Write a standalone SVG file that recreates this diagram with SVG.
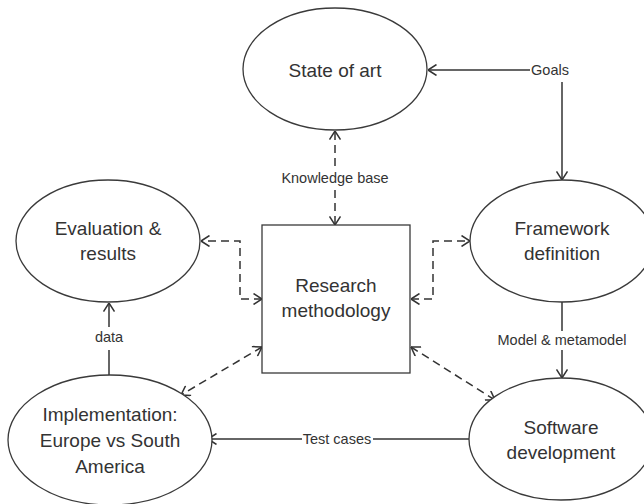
<svg xmlns="http://www.w3.org/2000/svg" width="644" height="504" viewBox="0 0 644 504">
  <defs>
    <style>
      .node { fill: #ffffff; stroke: #3a3a3a; stroke-width: 1.3; }
      .label { font-family: "Liberation Sans", Arial, sans-serif; font-size: 19px; fill: #333333; text-anchor: middle; }
      .small { font-family: "Liberation Sans", Arial, sans-serif; font-size: 14.5px; fill: #333333; text-anchor: middle; }
      .link { fill: none; stroke: #333333; stroke-width: 1.5; }
      .dash { stroke-dasharray: 8 5; }
    </style>
    <marker id="arrow" viewBox="0 0 10 12" refX="9.5" refY="6" markerWidth="10" markerHeight="12" markerUnits="userSpaceOnUse" orient="auto-start-reverse">
      <polyline points="1,0.5 9.5,6 1,11.5" fill="none" stroke="#333333" stroke-width="1.5"/>
    </marker>
  </defs>

  <rect width="644" height="504" fill="#ffffff"/>

  <!-- connectors -->
  <g id="connectors">
    <!-- Goals: from label to State of art and down to Framework definition -->
    <line class="link" x1="530" y1="70" x2="428" y2="70" marker-end="url(#arrow)"/>
    <line class="link" x1="562" y1="82" x2="562" y2="180" marker-end="url(#arrow)"/>
    <!-- Knowledge base -->
    <line class="link dash" x1="335" y1="166" x2="335" y2="131" marker-end="url(#arrow)"/>
    <line class="link dash" x1="335" y1="190" x2="335" y2="225" marker-end="url(#arrow)"/>
    <!-- Evaluation <-> Research -->
    <polyline class="link dash" points="262,299 240,299 240,241 201,241" marker-start="url(#arrow)" marker-end="url(#arrow)"/>
    <!-- Research <-> Framework -->
    <polyline class="link dash" points="411,299 433,299 433,241 470,241" marker-start="url(#arrow)" marker-end="url(#arrow)"/>
    <!-- Research <-> Implementation -->
    <line class="link dash" x1="262" y1="347" x2="181" y2="395" marker-start="url(#arrow)" marker-end="url(#arrow)"/>
    <!-- Research <-> Software -->
    <line class="link dash" x1="411" y1="347" x2="495" y2="400" marker-start="url(#arrow)" marker-end="url(#arrow)"/>
    <!-- Model & metamodel -->
    <line class="link" x1="562" y1="302" x2="562" y2="331"/>
    <line class="link" x1="562" y1="350" x2="562" y2="378" marker-end="url(#arrow)"/>
    <!-- Test cases -->
    <line class="link" x1="469" y1="439" x2="373" y2="439"/>
    <line class="link" x1="302" y1="439" x2="208" y2="439" marker-end="url(#arrow)"/>
    <!-- data -->
    <line class="link" x1="109" y1="375" x2="109" y2="350"/>
    <line class="link" x1="109" y1="327" x2="109" y2="303" marker-end="url(#arrow)"/>

    <text class="small" x="550" y="75">Goals</text>
    <text class="small" x="335" y="183">Knowledge base</text>
    <text class="small" x="562" y="345">Model &amp; metamodel</text>
    <text class="small" x="337" y="444">Test cases</text>
    <text class="small" x="109" y="342">data</text>
  </g>

  <!-- nodes -->
  <g id="state-of-art">
    <ellipse class="node" cx="335" cy="69" rx="92" ry="61"/>
    <text class="label" x="335" y="77">State of art</text>
  </g>

  <g id="evaluation">
    <ellipse class="node" cx="108" cy="241" rx="92" ry="61"/>
    <text class="label" x="108" y="235">Evaluation &amp;</text>
    <text class="label" x="108" y="260">results</text>
  </g>

  <g id="research-methodology">
    <rect class="node" x="262" y="225" width="148" height="148"/>
    <text class="label" x="336" y="292">Research</text>
    <text class="label" x="336" y="317">methodology</text>
  </g>

  <g id="framework-definition">
    <ellipse class="node" cx="562" cy="241" rx="92" ry="61"/>
    <text class="label" x="562" y="235">Framework</text>
    <text class="label" x="562" y="260">definition</text>
  </g>

  <g id="software-development">
    <ellipse class="node" cx="561" cy="439" rx="92" ry="61"/>
    <text class="label" x="561" y="434">Software</text>
    <text class="label" x="561" y="459">development</text>
  </g>

  <g id="implementation">
    <ellipse class="node" cx="110" cy="440" rx="102" ry="65"/>
    <text class="label" x="110" y="421">Implementation:</text>
    <text class="label" x="110" y="447">Europe vs South</text>
    <text class="label" x="110" y="473">America</text>
  </g>
</svg>
